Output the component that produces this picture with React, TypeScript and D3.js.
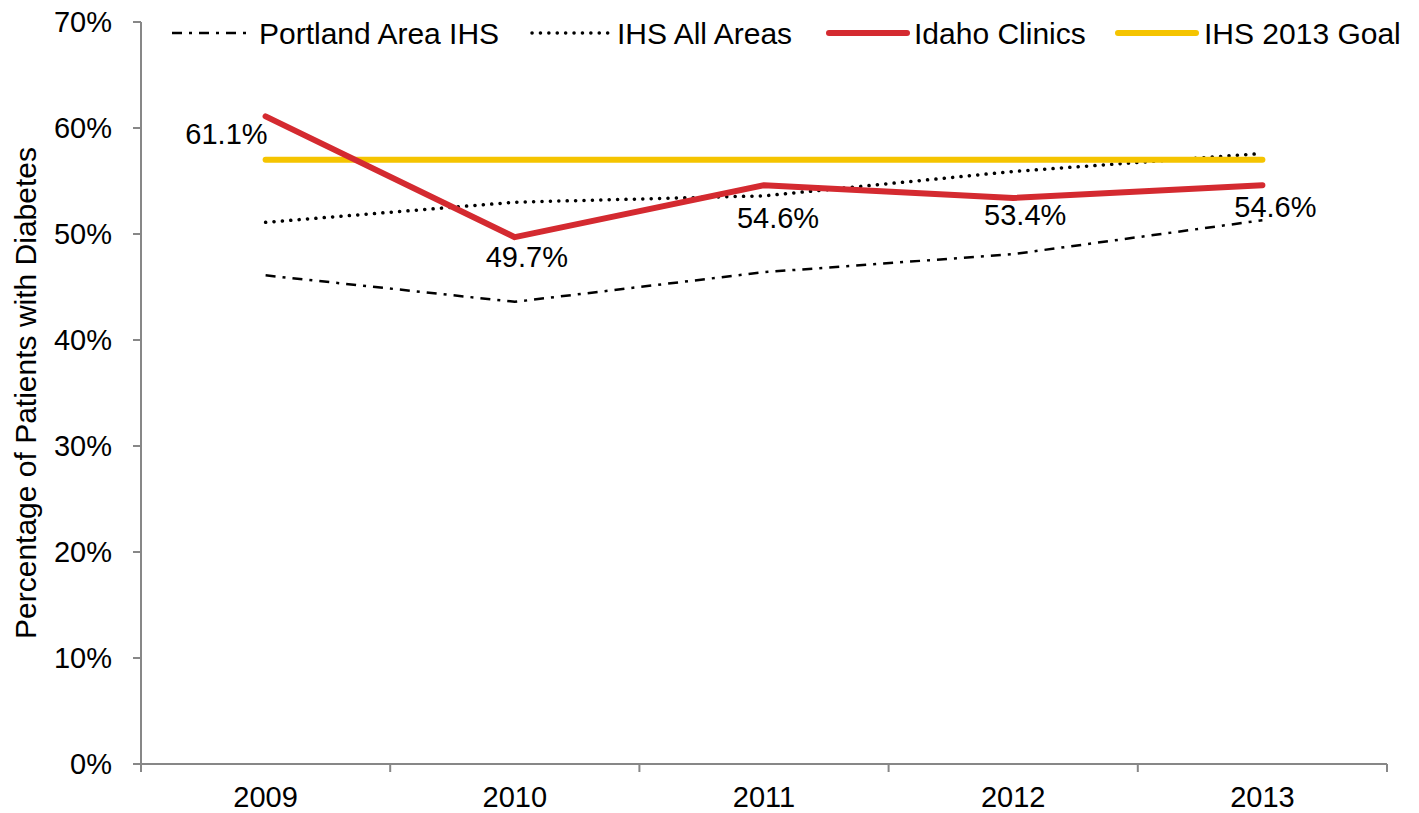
import * as d3 from "d3";

// chart data
const years = ["2009", "2010", "2011", "2012", "2013"];
const portlandArea = [46.1, 43.6, 46.4, 48.1, 51.3];
const ihsAllAreas = [51.1, 53.0, 53.6, 55.9, 57.6];
const idahoClinics = [61.1, 49.7, 54.6, 53.4, 54.6];
const ihsGoal = [57.0, 57.0, 57.0, 57.0, 57.0];
const yTicks = [0, 10, 20, 30, 40, 50, 60, 70];

// label placement for the Idaho values (dx, dy relative to point)
const labelAnchor = ["end", "middle", "middle", "middle", "middle"];
const labelDx = [2, 12, 14, 12, 13];
const labelDy = [28, 30, 43, 27, 32];

const W = 1419;
const H = 813;
const margin = { top: 22, right: 32, bottom: 49, left: 141 };
const FONT = "'Liberation Sans', Arial, sans-serif";
const FS = 29;
const FS_LEGEND = 30;

const RED = "#d42a30";
const GOLD = "#f5c400";
const AXIS = "#878787";

const series = [
  { name: "Portland Area IHS", values: portlandArea, color: "#000", width: 2.5, dash: "10,7,3,7", cap: "butt", lx: 172, tx: 259 },
  { name: "IHS All Areas", values: ihsAllAreas, color: "#000", width: 3.5, dash: "0.1,8.3", cap: "round", lx: 532, tx: 617 },
  { name: "Idaho Clinics", values: idahoClinics, color: RED, width: 6, dash: null, cap: "round", lx: 829, tx: 914 },
  { name: "IHS 2013 Goal", values: ihsGoal, color: GOLD, width: 6, dash: null, cap: "round", lx: 1118, tx: 1204 },
];

export default function App() {
  const x = d3
    .scaleBand<string>()
    .domain(years)
    .range([margin.left, W - margin.right])
    .padding(0);
  const y = d3
    .scaleLinear()
    .domain([0, 70])
    .range([H - margin.bottom, margin.top]);
  const cx = (yr: string) => (x(yr) as number) + x.bandwidth() / 2;

  const line = d3
    .line<number>()
    .x((_, i) => cx(years[i]))
    .y((d) => y(d));

  const x0 = margin.left;
  const y0 = y(0);
  const boundaries = years.map((yr) => x(yr) as number).concat([W - margin.right]);

  // draw order: dotted/dashed first, goal, Idaho on top
  const drawOrder = [series[1], series[0], series[3], series[2]];

  return (
    <svg
      width={W}
      height={H}
      style={{ position: "absolute", left: 0, top: 0, background: "#fff" }}
      fontFamily={FONT}
    >
      {/* y axis */}
      <line x1={x0} x2={x0} y1={y(70)} y2={y0} stroke={AXIS} strokeWidth={2} />
      {yTicks.map((t) => (
        <g key={t}>
          <line x1={x0 - 8} x2={x0} y1={y(t)} y2={y(t)} stroke={AXIS} strokeWidth={2} />
          <text x={112} y={y(t)} dy="0.36em" textAnchor="end" fontSize={FS} fill="#000">
            {t}%
          </text>
        </g>
      ))}
      {/* x axis */}
      <line x1={x0 - 8} x2={W - margin.right} y1={y0} y2={y0} stroke={AXIS} strokeWidth={2} />
      {boundaries.map((b, i) => (
        <line key={i} x1={b} x2={b} y1={y0} y2={y0 + 8} stroke={AXIS} strokeWidth={2} />
      ))}
      {years.map((yr) => (
        <text key={yr} x={cx(yr)} y={807} textAnchor="middle" fontSize={FS} fill="#000">
          {yr}
        </text>
      ))}

      {/* y axis title */}
      <text
        transform={`translate(36, ${(y(70) + y0) / 2}) rotate(-90)`}
        textAnchor="middle"
        fontSize={FS_LEGEND}
        fill="#000"
      >
        Percentage of Patients with Diabetes
      </text>

      {/* series */}
      {drawOrder.map((s) => (
        <path
          key={s.name}
          d={line(s.values) as string}
          fill="none"
          stroke={s.color}
          strokeWidth={s.width}
          strokeDasharray={s.dash ?? undefined}
          strokeLinecap={s.cap as any}
          strokeLinejoin="round"
        />
      ))}

      {/* Idaho value labels */}
      {idahoClinics.map((v, i) => (
        <text
          key={i}
          x={cx(years[i]) + labelDx[i]}
          y={y(v) + labelDy[i]}
          textAnchor={labelAnchor[i]}
          fontSize={FS}
          fill="#000"
        >
          {v.toFixed(1)}%
        </text>
      ))}

      {/* legend */}
      {series.map((s) => (
        <g key={s.name}>
          <line
            x1={s.lx}
            x2={s.lx + 78}
            y1={33}
            y2={33}
            stroke={s.color}
            strokeWidth={s.width}
            strokeDasharray={s.dash ?? undefined}
            strokeLinecap={s.cap as any}
          />
          <text x={s.tx} y={44} fontSize={FS_LEGEND} fill="#000">
            {s.name}
          </text>
        </g>
      ))}
    </svg>
  );
}
